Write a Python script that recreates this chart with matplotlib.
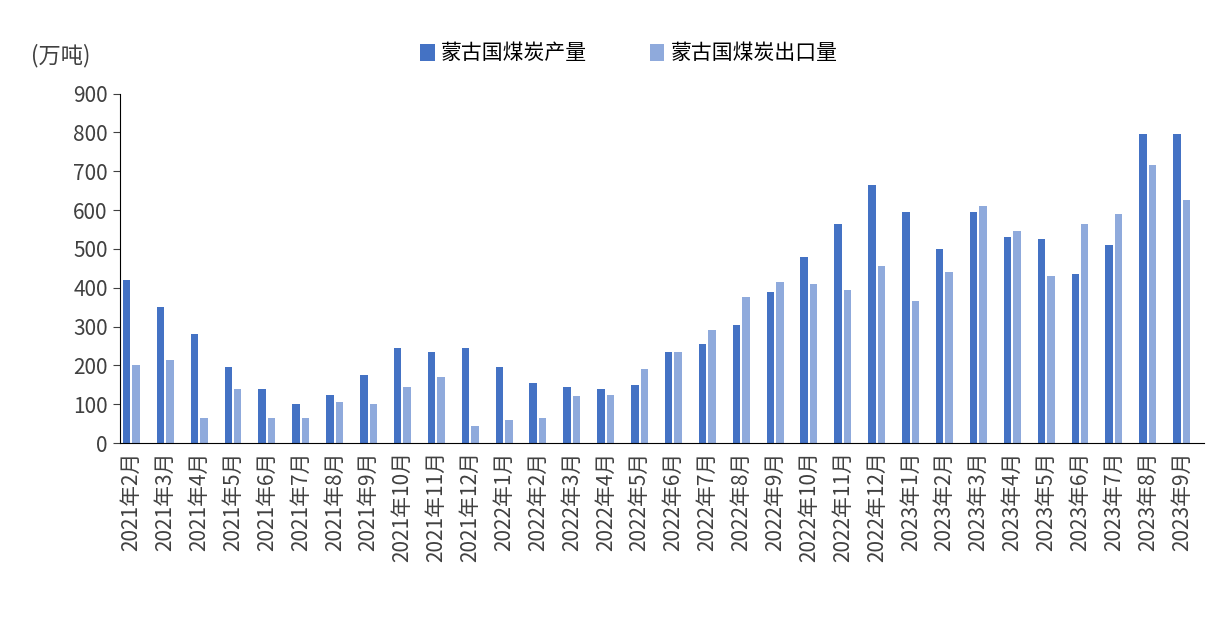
import matplotlib
matplotlib.use("Agg")
import matplotlib.pyplot as plt
import numpy as np

plt.rcParams['font.family'] = ['Noto Sans CJK SC', 'DejaVu Sans']

months = ([f"2021年{m}月" for m in range(2, 13)] + [f"2022年{m}月" for m in range(1, 13)]
          + [f"2023年{m}月" for m in range(1, 10)])
production = [420, 350, 280, 195, 140, 100, 125, 175, 245, 235, 245, 195, 155, 145, 138, 150,
              235, 255, 305, 390, 480, 565, 665, 595, 500, 595, 530, 525, 435, 510, 795, 795]
export = [200, 215, 65, 140, 65, 65, 105, 100, 145, 170, 45, 60, 65, 120, 125, 190,
          235, 290, 375, 415, 410, 395, 455, 365, 440, 610, 545, 430, 565, 590, 715, 625]
yticks = [0, 100, 200, 300, 400, 500, 600, 700, 800, 900]

fig = plt.figure(figsize=(12.32, 6.24), dpi=100)
ax = fig.add_axes([0.097, 0.29, 0.88, 0.56])
x = np.arange(len(months))
w = 0.22
ax.bar(x - 0.14, production, w, color='#4472C4', label='蒙古国煤炭产量')
ax.bar(x + 0.14, export, w, color='#8FAADC', label='蒙古国煤炭出口量')
ax.set_xlim(-0.35, len(months) - 0.35)
ax.set_ylim(0, 900)
ax.set_yticks(yticks)
ax.set_xticks(x)
ax.set_xticklabels(months, rotation=90, fontsize=15, color='#404040')
ax.tick_params(axis='y', labelsize=15, colors='#404040', direction='out', length=5)
ax.tick_params(axis='x', length=0, pad=6)
for s in ['top', 'right']:
    ax.spines[s].set_visible(False)
ax.spines['left'].set_color('black')
ax.spines['bottom'].set_color('black')
fig.text(0.025, 0.9, '(万吨)', fontsize=16, color='#404040')
ax.legend(loc='upper center', bbox_to_anchor=(0.47, 1.2), ncol=2, frameon=False,
          fontsize=15, handlelength=0.7, handleheight=0.9, columnspacing=3, handletextpad=0.3)
fig.savefig('out.png', dpi=100)
